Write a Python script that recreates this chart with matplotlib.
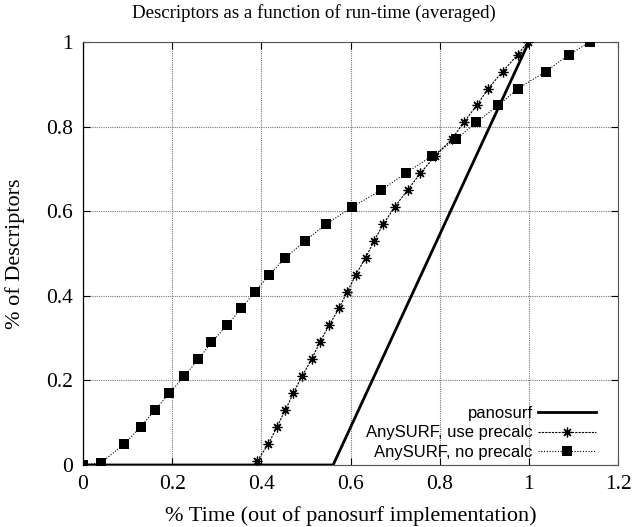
import matplotlib
matplotlib.use('Agg')
import matplotlib.pyplot as plt

# panosurf reference (straight ramp after start-up)
pano_x = [0.0, 0.561, 1.0]
pano_y = [0.0, 0.0, 1.0]

# AnySURF, use precalc
pre_x = [0.391, 0.416, 0.435, 0.454, 0.472, 0.491, 0.513, 0.531, 0.552, 0.574,
         0.593, 0.612, 0.634, 0.653, 0.674, 0.699, 0.728, 0.757, 0.789, 0.827,
         0.854, 0.883, 0.909, 0.941, 0.975, 0.998]
pre_y = [0.01, 0.05, 0.09, 0.13, 0.17, 0.21, 0.25, 0.29, 0.33, 0.37,
         0.41, 0.45, 0.49, 0.53, 0.57, 0.61, 0.65, 0.69, 0.73, 0.77,
         0.81, 0.85, 0.89, 0.93, 0.97, 1.0]

# AnySURF, no precalc
nopre_x = [0.0, 0.04, 0.093, 0.129, 0.162, 0.194, 0.227, 0.259, 0.288, 0.323,
           0.355, 0.386, 0.418, 0.454, 0.498, 0.546, 0.604, 0.669, 0.724, 0.782,
           0.837, 0.882, 0.931, 0.976, 1.038, 1.090, 1.137]
nopre_y = [0.0, 0.005, 0.05, 0.09, 0.13, 0.17, 0.21, 0.25, 0.29, 0.33,
           0.37, 0.41, 0.45, 0.49, 0.53, 0.57, 0.61, 0.65, 0.69, 0.73,
           0.77, 0.81, 0.85, 0.89, 0.93, 0.97, 1.0]

xticks = [0, 0.2, 0.4, 0.6, 0.8, 1, 1.2]
yticks = [0, 0.2, 0.4, 0.6, 0.8, 1]
xtick_labels = ['0', '0.2', '0.4', '0.6', '0.8', '1', '1.2']
ytick_labels = ['0', '0.2', '0.4', '0.6', '0.8', '1']

serif = 'Liberation Serif'
sans = 'Liberation Sans'

fig = plt.figure(figsize=(6.34, 5.27), dpi=100)
ax = fig.add_axes([83 / 634, 62 / 527, 535 / 634, 423 / 527])

ax.plot(pano_x, pano_y, color='black', lw=2.0, label='panosurf', zorder=3)
ax.plot(pre_x, pre_y, color='black', lw=0.8, ls=(0, (2, 1)),
        marker=(8, 2, 0), markersize=7, markeredgewidth=0.9,
        label='AnySURF, use precalc', zorder=4)
ax.plot(nopre_x, nopre_y, color='black', lw=0.8, ls=(0, (1, 1.5)),
        marker='s', markersize=6.5, markeredgewidth=0,
        label='AnySURF, no precalc', zorder=4)

ax.set_xlim(0, 1.2)
ax.set_ylim(0, 1)
ax.set_xticks(xticks)
ax.set_xticklabels(xtick_labels, fontfamily=serif, fontsize=15.5)
ax.set_yticks(yticks)
ax.set_yticklabels(ytick_labels, fontfamily=serif, fontsize=15.5)
ax.tick_params(direction='in', length=5, width=0.8, top=True, right=True, pad=7)

ax.grid(True, color='#777777', ls=(0, (1, 1)), lw=0.8)
for side in ['top', 'right', 'bottom']:
    ax.spines[side].set_color('#555555')
    ax.spines[side].set_linewidth(0.8)
ax.spines['left'].set_linewidth(0.9)

ax.set_xlabel('% Time (out of panosurf implementation)', fontfamily=serif,
              fontsize=16, labelpad=9)
ax.set_ylabel('% of Descriptors', fontfamily=serif, fontsize=16, labelpad=15)
fig.text(314 / 634, 1 - 13 / 527, 'Descriptors as a function of run-time (averaged)',
         fontfamily=serif, fontsize=13.6, ha='center', va='center')

leg = ax.legend(loc='lower right', bbox_to_anchor=((596 - 83) / 535, 5 / 423),
                frameon=False, markerfirst=False, borderpad=0, borderaxespad=0,
                handlelength=3.5, handletextpad=0.3, labelspacing=0.27,
                prop={'family': sans, 'size': 12})

fig.savefig('out.png', dpi=100)
